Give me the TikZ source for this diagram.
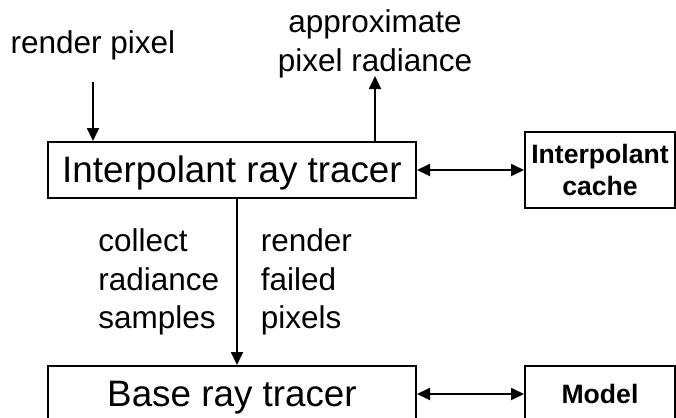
\documentclass[tikz,border=0pt]{standalone}
\usepackage{fontspec}
\setmainfont{Liberation Sans}
\usetikzlibrary{arrows.meta,positioning}

\tikzset{
  tracer/.style={draw, line width=1pt, inner sep=0pt, minimum width=184pt, minimum height=28pt,
    text height=15pt, text depth=2.5pt, font=\fontsize{18.4}{22}\selectfont},
  store/.style={draw, line width=1pt, inner sep=0pt, minimum width=75pt, align=center,
    font=\bfseries\fontsize{13.3}{16}\selectfont},
  lbl/.style={inner sep=0pt, align=left, font=\fontsize{15.75}{19.25}\selectfont},
  flow/.style={line width=0.9pt, -{Triangle[length=6.5pt,width=6pt]}},
  link/.style={line width=0.9pt, {Triangle[length=6.5pt,width=6pt]}-{Triangle[length=6.5pt,width=6pt]}},
}

\begin{document}
\begin{tikzpicture}[x=0.5pt, y=-0.5pt]
  \useasboundingbox (0,0) rectangle (676,418);
  % the two tracers and what each of them reads
  \node[tracer] (irt) at (232,170) {Interpolant ray tracer};
  \node[tracer] (brt) at (232,394) {Base ray tracer};
  \node[store, minimum height=38pt] (cache) at (600,170) {Interpolant\\cache};
  \node[store, minimum height=28pt] (model) at (600,394) {Model};
  \draw[link] (irt) -- (cache);
  \draw[link] (brt) -- (model);

  % pixel request in, radiance out
  \node[lbl, anchor=base] (req) at (93,53) {render pixel};
  \node[lbl, align=center] (res) at (375,44) {approximate\\pixel radiance};
  \coordinate (reqend) at (93,82);
  \coordinate (resend) at (375,76);
  \draw[flow] (reqend) -- (reqend |- irt.north);
  \draw[flow] (resend |- irt.north) -- (resend);

  % fall back to the base tracer
  \draw[flow] ([xshift=2.5pt]irt.south) -- ([xshift=2.5pt]brt.north)
    node[midway, left=8.5pt, lbl] {collect\\radiance\\samples}
    node[midway, right=11.5pt, lbl] {render\\failed\\pixels};
\end{tikzpicture}
\end{document}
